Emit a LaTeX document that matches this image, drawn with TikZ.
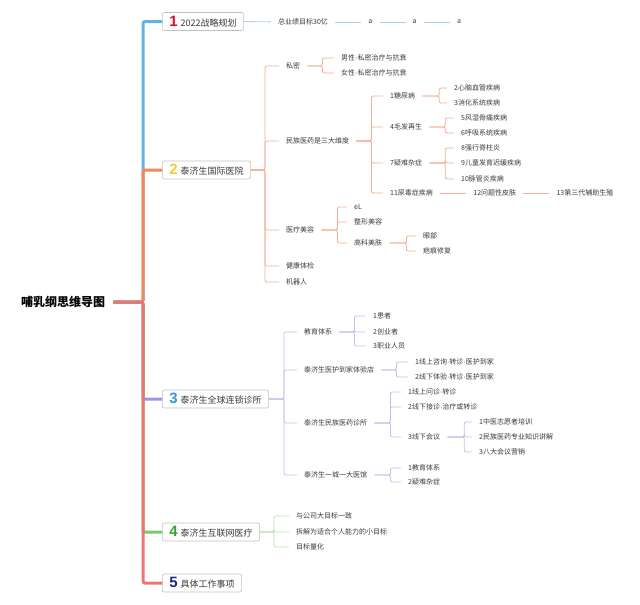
\documentclass[tikz,border=0pt]{standalone}
\usepackage{fontspec}
\setmainfont{Noto Sans CJK SC}
\newfontfamily\numfont{Liberation Sans}
\usepackage{tikz}
\usetikzlibrary{positioning}
\usepackage{xcolor}
\definecolor{brBlue}{HTML}{62B2EA}
\definecolor{brBlueLt}{HTML}{A9D0EE}
\definecolor{brOrange}{HTML}{F2875F}
\definecolor{brOrangeLt}{HTML}{F5AE8F}
\definecolor{brPurple}{HTML}{A592E4}
\definecolor{brPurpleLt}{HTML}{C6BCEE}
\definecolor{brGreen}{HTML}{74CC64}
\definecolor{brGreenLt}{HTML}{B8E4B0}
\definecolor{brRed}{HTML}{EF7373}
\definecolor{numRed}{HTML}{D2102B}
\definecolor{numYellow}{HTML}{F6C842}
\definecolor{numBlue}{HTML}{2D9AD8}
\definecolor{numGreen}{HTML}{3A9E36}
\definecolor{numNavy}{HTML}{1E2A7A}
\definecolor{boxLine}{HTML}{B9C5C2}
\definecolor{txtGray}{HTML}{3A3A3A}

\newcommand{\topicnum}[2]{{\numfont\bfseries\fontsize{15}{15}\selectfont\color{#1}#2}\hspace{3pt}}
\newcommand{\md}{{\numfont ·}}

\begin{document}
\begin{tikzpicture}[
    x=1pt, y=-1pt,
    node distance=40pt,
    topic/.style={rectangle, draw=boxLine, line width=0.6pt, fill=white, rounded corners=2pt, minimum height=18pt, inner xsep=7pt, inner ysep=0pt, anchor=west, font=\fontsize{9}{9}\selectfont, text=txtGray},
    leaf/.style={inner sep=0pt, anchor=west, font=\fontsize{7}{7}\selectfont, text=txtGray},
    trunk/.style={line width=3pt, rounded corners=2pt, shorten <=8pt},
    twig/.style={line width=0.8pt, rounded corners=2pt, shorten >=7pt},
    gap/.style={shorten <=7pt},
]
    \useasboundingbox (0,0) rectangle (640,605);

    % root and main topics
    \node[anchor=west, inner sep=0pt, font=\bfseries\fontsize{12}{12}\selectfont] (root) at (21,302) {哺乳纲思维导图};
    \coordinate (hub) at (143,302);
    \node[topic] (b1) at (162,21.5) {\topicnum{numRed}{1}2022战略规划};
    \node[topic] (b2) at (162,170) {\topicnum{numYellow}{2}泰济生国际医院};
    \node[topic] (b3) at (162,399) {\topicnum{numBlue}{3}泰济生全球连锁诊所};
    \node[topic] (b4) at (162,532) {\topicnum{numGreen}{4}泰济生互联网医疗};
    \node[topic] (b5) at (162,583) {\topicnum{numNavy}{5}具体工作事项};

    \draw[trunk, brBlue] (root.east) -- (hub) |- (b1.west);
    \draw[trunk, brOrange] (root.east) -- (hub) |- (b2.west);
    \draw[trunk, brPurple] (root.east) -- (hub) |- (b3.west);
    \draw[trunk, brGreen] (root.east) -- (hub) |- (b4.west);
    \draw[trunk, brRed] (root.east) -- (hub) |- (b5.west);

    % 1
    \node[leaf] (t1) at (278,22) {总业绩目标30亿};
    \node[leaf, right=of t1] (a1) {a};
    \node[leaf, right=of a1] (a2) {a};
    \node[leaf, right=of a2] (a3) {a};
    \draw[twig, brBlueLt] (b1.east) -- (t1.west);
    \draw[twig, gap, brBlueLt] (t1.east) -- (a1.west);
    \draw[twig, gap, brBlueLt] (a1.east) -- (a2.west);
    \draw[twig, gap, brBlueLt] (a2.east) -- (a3.west);

    % 2
    \node[leaf] (s1) at (286,66) {私密};
    \node[leaf] (s2) at (286,141) {民族医药是三大维度};
    \node[leaf] (s3) at (286,230) {医疗美容};
    \node[leaf] (s4) at (286,266) {健康体检};
    \node[leaf] (s5) at (286,282) {机器人};
    \node[leaf] (s11) at (341,58) {男性\md 私密治疗与抗衰};
    \node[leaf] (s12) at (341,73) {女性\md 私密治疗与抗衰};
    \node[leaf] (s21) at (390,96) {1糖尿病};
    \node[leaf] (s22) at (390,127) {4毛发再生};
    \node[leaf] (s23) at (390,163) {7疑难杂症};
    \node[leaf] (s24) at (390,193) {11尿毒症疾病};
    \node[leaf] (s211) at (454,88) {2心脑血管疾病};
    \node[leaf] (s212) at (454,103) {3消化系统疾病};
    \node[leaf] (s221) at (461,118) {5风湿骨痛疾病};
    \node[leaf] (s222) at (461,133) {6呼吸系统疾病};
    \node[leaf] (s231) at (461,148) {8强行脊柱炎};
    \node[leaf] (s232) at (461,163) {9儿童发育迟缓疾病};
    \node[leaf] (s233) at (461,179) {10脉管炎疾病};
    \node[leaf, right=of s24] (s241) {12问题性皮肤};
    \node[leaf, right=of s241] (s242) {13第三代辅助生殖};
    \node[leaf] (s31) at (354,207) {eL};
    \node[leaf] (s32) at (354,222) {整形美容};
    \node[leaf] (s33) at (354,243) {高科美肤};
    \node[leaf] (s331) at (423,236) {眼部};
    \node[leaf] (s332) at (423,251) {疤痕修复};

    \foreach \c in {s1,s2,s3,s4,s5}
        \draw[twig, brOrangeLt] (b2.east) -- ++(14,0) |- (\c.west);
    \foreach \c in {s11,s12}
        \draw[twig, gap, brOrangeLt] (s1.east) -- ++(22,0) |- (\c.west);
    \foreach \c in {s21,s22,s23,s24}
        \draw[twig, gap, brOrangeLt] (s2.east) -- ++(22,0) |- (\c.west);
    \foreach \c in {s211,s212}
        \draw[twig, gap, brOrangeLt] (s21.east) -- ++(24,0) |- (\c.west);
    \foreach \c in {s221,s222}
        \draw[twig, gap, brOrangeLt] (s22.east) -- ++(23,0) |- (\c.west);
    \foreach \c in {s231,s232,s233}
        \draw[twig, gap, brOrangeLt] (s23.east) -- ++(23,0) |- (\c.west);
    \draw[twig, gap, brOrangeLt] (s24.east) -- (s241.west);
    \draw[twig, gap, brOrangeLt] (s241.east) -- (s242.west);
    \foreach \c in {s31,s32,s33}
        \draw[twig, gap, brOrangeLt] (s3.east) -- ++(23,0) |- (\c.west);
    \foreach \c in {s331,s332}
        \draw[twig, gap, brOrangeLt] (s33.east) -- ++(24,0) |- (\c.west);

    % 3
    \node[leaf] (m1) at (304,332) {教育体系};
    \node[leaf] (m2) at (304,370) {泰济生医护到家体验店};
    \node[leaf] (m3) at (304,423) {泰济生民族医药诊所};
    \node[leaf] (m4) at (304,475) {泰济生一城一大医馆};
    \node[leaf] (m11) at (373,316) {1患者};
    \node[leaf] (m12) at (373,332) {2创业者};
    \node[leaf] (m13) at (373,346) {3职业人员};
    \node[leaf] (m21) at (415,362) {1线上咨询\md 转诊\md 医护到家};
    \node[leaf] (m22) at (415,377) {2线下体验\md 转诊\md 医护到家};
    \node[leaf] (m31) at (408,392) {1线上问诊\md 转诊};
    \node[leaf] (m32) at (408,407) {2线下接诊\md 治疗或转诊};
    \node[leaf] (m33) at (408,437) {3线下会议};
    \node[leaf] (m331) at (479,422) {1中医志愿者培训};
    \node[leaf] (m332) at (479,437) {2民族医药专业知识讲解};
    \node[leaf] (m333) at (479,452) {3八大会议营销};
    \node[leaf] (m41) at (408,468) {1教育体系};
    \node[leaf] (m42) at (408,482) {2疑难杂症};

    \foreach \c in {m1,m2,m3,m4}
        \draw[twig, brPurpleLt] (b3.east) -- ++(15,0) |- (\c.west);
    \foreach \c in {m11,m12,m13}
        \draw[twig, gap, brPurpleLt] (m1.east) -- ++(22,0) |- (\c.west);
    \foreach \c in {m21,m22}
        \draw[twig, gap, brPurpleLt] (m2.east) -- ++(22,0) |- (\c.west);
    \foreach \c in {m31,m32,m33}
        \draw[twig, gap, brPurpleLt] (m3.east) -- ++(23,0) |- (\c.west);
    \foreach \c in {m331,m332,m333}
        \draw[twig, gap, brPurpleLt] (m33.east) -- ++(24,0) |- (\c.west);
    \foreach \c in {m41,m42}
        \draw[twig, gap, brPurpleLt] (m4.east) -- ++(23,0) |- (\c.west);

    % 4
    \node[leaf] (g1) at (296,516) {与公司大目标一致};
    \node[leaf] (g2) at (296,532) {拆解为适合个人能力的小目标};
    \node[leaf] (g3) at (296,547) {目标量化};
    \foreach \c in {g1,g2,g3}
        \draw[twig, brGreenLt] (b4.east) -- ++(14,0) |- (\c.west);
\end{tikzpicture}
\end{document}
